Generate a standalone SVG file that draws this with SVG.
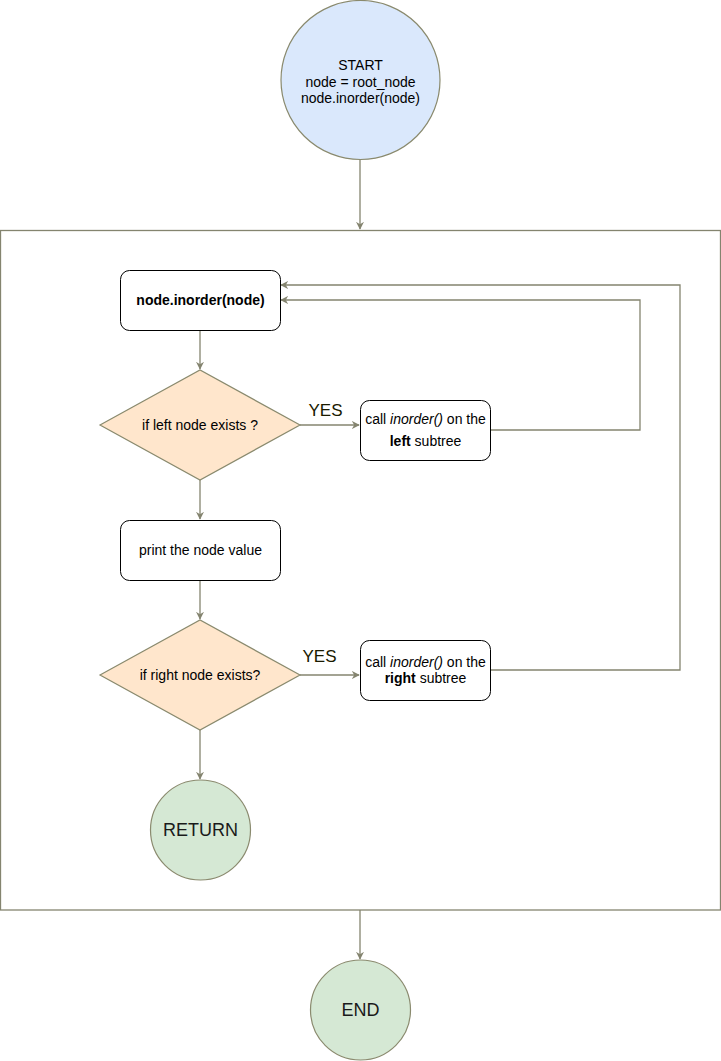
<svg xmlns="http://www.w3.org/2000/svg" width="721" height="1061" viewBox="0 0 721 1061">
  <style>
    text { font-family: "Liberation Sans", Arial, sans-serif; font-size: 14px; fill: #000; text-anchor: middle; }
    .edge { fill: none; stroke: #84846f; stroke-width: 1.3; }
    .box { fill: #fff; stroke: #000; stroke-width: 1; }
    .start { fill: #dae8fc; stroke: #8a8a6e; stroke-width: 1.2; }
    .dec { fill: #ffe6cc; stroke: #8a8a6e; stroke-width: 1.2; }
    .term { fill: #d5e8d4; stroke: #8a8a6e; stroke-width: 1.2; }
    .frame { fill: none; stroke: #84846f; stroke-width: 1.3; }
    .lbl { font-size: 17px; fill: #1a1a00; }
    .big { font-size: 18px; fill: #1a1a1a; }
  </style>
  <defs>
    <marker id="arrow" viewBox="0 0 10 10" refX="9" refY="5" markerWidth="8" markerHeight="8" markerUnits="userSpaceOnUse" orient="auto">
      <path d="M0,0 L10,5 L0,10 L3,5 z" fill="#84846f"/>
    </marker>
  </defs>

  <rect width="721" height="1061" fill="#fff"/>

  <!-- loop container -->
  <rect class="frame" x="0.5" y="230.5" width="720" height="679.5"/>

  <g id="connectors">
    <path class="edge" d="M360,160 L360,229" marker-end="url(#arrow)"/>
    <path class="edge" d="M200,330 L200,369" marker-end="url(#arrow)"/>
    <path class="edge" d="M300,425 L359,425" marker-end="url(#arrow)"/>
    <path class="edge" d="M490,430 L640,430 L640,300 L281,300" marker-end="url(#arrow)"/>
    <path class="edge" d="M200,480 L200,519" marker-end="url(#arrow)"/>
    <path class="edge" d="M200,580 L200,619" marker-end="url(#arrow)"/>
    <path class="edge" d="M300,675 L359,675" marker-end="url(#arrow)"/>
    <path class="edge" d="M490,670 L680,670 L680,285 L281,285" marker-end="url(#arrow)"/>
    <path class="edge" d="M200,730 L200,779" marker-end="url(#arrow)"/>
    <path class="edge" d="M360,910 L360,959" marker-end="url(#arrow)"/>
    <text class="lbl" x="325.5" y="416">YES</text>
    <text class="lbl" x="319.5" y="662">YES</text>
  </g>

  <g id="start">
    <circle class="start" cx="360.5" cy="80" r="79.5"/>
    <text x="360.5" y="70">START</text>
    <text x="360.5" y="86.5">node = root_node</text>
    <text x="360.5" y="103">node.inorder(node)</text>
  </g>

  <g id="inorder-call">
    <rect class="box" x="120.5" y="270.5" width="160" height="60" rx="9"/>
    <text x="200.5" y="305" font-weight="bold">node.inorder(node)</text>
  </g>

  <g id="left-check">
    <polygon class="dec" points="100,425 200,370 300,425 200,480"/>
    <text x="200" y="430">if left node exists ?</text>
  </g>

  <g id="left-recurse">
    <rect class="box" x="360.5" y="400.5" width="130" height="60" rx="9"/>
    <text x="425.5" y="424">call <tspan font-style="italic">inorder()</tspan> on the</text>
    <text x="425.5" y="446"><tspan font-weight="bold">left</tspan> subtree</text>
  </g>

  <g id="print-value">
    <rect class="box" x="120.5" y="520.5" width="160" height="60" rx="9"/>
    <text x="200.5" y="555">print the node value</text>
  </g>

  <g id="right-check">
    <polygon class="dec" points="100,675 200,620 300,675 200,730"/>
    <text x="200" y="680">if right node exists?</text>
  </g>

  <g id="right-recurse">
    <rect class="box" x="360.5" y="640.5" width="130" height="60" rx="9"/>
    <text x="425.5" y="667">call <tspan font-style="italic">inorder()</tspan> on the</text>
    <text x="425.5" y="683"><tspan font-weight="bold">right</tspan> subtree</text>
  </g>

  <g id="return">
    <circle class="term" cx="200.5" cy="830" r="50"/>
    <text class="big" x="200.5" y="836">RETURN</text>
  </g>

  <g id="end">
    <circle class="term" cx="360.5" cy="1010" r="50"/>
    <text class="big" x="360.5" y="1016">END</text>
  </g>
</svg>
